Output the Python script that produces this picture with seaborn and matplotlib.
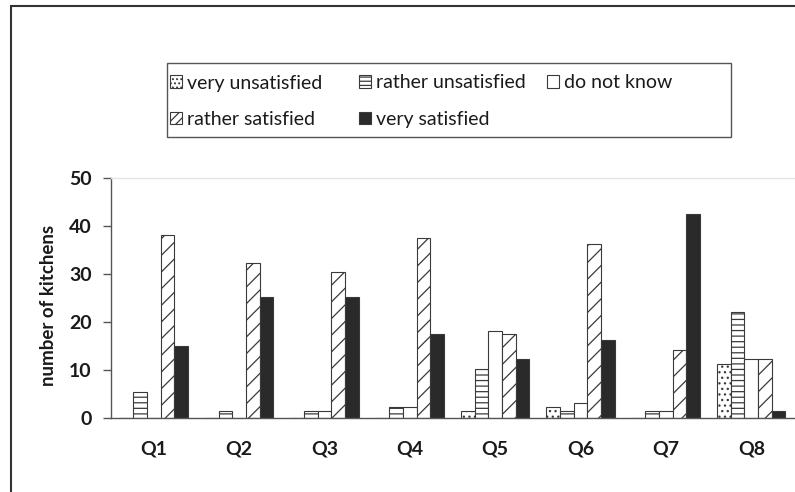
import matplotlib
matplotlib.use("Agg")
import matplotlib.pyplot as plt
from matplotlib.patches import Rectangle, Patch
import seaborn as sns
import pandas as pd

# survey questions and answers per satisfaction level
questions = ["Q1", "Q2", "Q3", "Q4", "Q5", "Q6", "Q7", "Q8"]
levels = ["very unsatisfied", "rather unsatisfied", "do not know",
          "rather satisfied", "very satisfied"]
very_unsatisfied = [0, 0, 0, 0, 1.5, 2.2, 0, 11.2]
rather_unsatisfied = [5.4, 1.5, 1.5, 2.2, 10.3, 1.5, 1.5, 22.1]
do_not_know = [0, 0, 1.5, 2.2, 18.1, 3.2, 1.5, 12.3]
rather_satisfied = [38.1, 32.3, 30.4, 37.5, 17.4, 36.2, 14.2, 12.3]
very_satisfied = [15.1, 25.2, 25.2, 17.4, 12.3, 16.3, 42.5, 1.5]
y_ticks = [0, 10, 20, 30, 40, 50]

series = [very_unsatisfied, rather_unsatisfied, do_not_know,
          rather_satisfied, very_satisfied]
rows = []
for level, vals in zip(levels, series):
    for q, v in zip(questions, vals):
        rows.append({"question": q, "answer": level, "kitchens": v})
df = pd.DataFrame(rows)

sns.set_theme(style="white")
plt.rcParams["font.family"] = ["Lato", "DejaVu Sans"]
plt.rcParams["hatch.linewidth"] = 0.9

dark = "#2a2a2a"
edge = "#3a3a3a"
faces = ["white", "white", "white", "white", dark]
hatches = ["...", "---", "", "//", ""]
legend_hatches = ["....", "----", "", "////", ""]

fig = plt.figure(figsize=(7.95, 4.92), dpi=100)
ax = fig.add_axes([111 / 795, 1 - 418 / 492, 683 / 795, 240 / 492])

sns.barplot(data=df, x="question", y="kitchens", hue="answer",
            hue_order=levels, order=questions, palette=faces,
            width=0.8, edgecolor=edge, linewidth=0.8, saturation=1,
            legend=False, ax=ax)

for cont, face, h in zip(ax.containers, faces, hatches):
    for bar in cont:
        bar.set_facecolor(face)
        bar.set_hatch(h)
        bar.set_edgecolor(edge)

ax.set_ylim(0, 50)
ax.set_xlim(-0.5, len(questions) - 0.5)
ax.set_yticks(y_ticks)
ax.set_yticklabels([str(t) for t in y_ticks], fontweight="bold",
                   fontsize=14, color="#1a1a1a")
ax.set_xticks(range(len(questions)))
ax.set_xticklabels(questions, fontweight="bold", fontsize=14,
                   color="#1a1a1a")
ax.set_xticks([i + 0.5 for i in range(len(questions))], minor=True)
ax.tick_params(axis="x", which="major", length=0, pad=16)
ax.tick_params(axis="x", which="minor", length=5, width=1,
               color="#555555", direction="out")
ax.tick_params(axis="y", which="major", length=6, width=1,
               color="#555555", direction="out", left=True, pad=8)
ax.set_xlabel("")
ax.set_ylabel("number of kitchens", fontweight="bold", fontsize=13.5,
              color="#1a1a1a")
ax.yaxis.set_label_coords(-0.079, 0.47)

for side in ("left", "bottom"):
    ax.spines[side].set_color("#555555")
    ax.spines[side].set_linewidth(1.0)
ax.spines["top"].set_color("#e4e4e4")
ax.spines["top"].set_linewidth(1.0)
ax.spines["right"].set_visible(False)

# legend: three fixed-width columns, filled row by row
handles = [Patch(facecolor=f, edgecolor=edge, hatch=h, linewidth=0.8)
           for f, h in zip(faces, legend_hatches)]
columns = [[0, 3], [1, 4], [2]]
col_x = [170, 359, 547]
for idx, x in zip(columns, col_x):
    leg = fig.legend([handles[i] for i in idx], [levels[i] for i in idx],
                     loc="upper left", bbox_to_anchor=(x / 795, 1 - 74.5 / 492),
                     ncol=1, frameon=False, fontsize=14, handlelength=0.6,
                     handleheight=0.6, handletextpad=0.25,
                     labelspacing=0.98, borderaxespad=0, borderpad=0)
    for t in leg.get_texts():
        t.set_color("#1a1a1a")

# legend frame and outer figure border
fig.add_artist(Rectangle((167 / 795, 1 - 137 / 492), 564 / 795, 74 / 492,
                         transform=fig.transFigure, fill=False,
                         edgecolor="#555555", linewidth=1.0))
fig.add_artist(Rectangle((11 / 795, -0.05), 1.0, 1 - 6 / 492 + 0.05,
                         transform=fig.transFigure, fill=False,
                         edgecolor="#333333", linewidth=1.5))

fig.savefig("out.png", dpi=100)
